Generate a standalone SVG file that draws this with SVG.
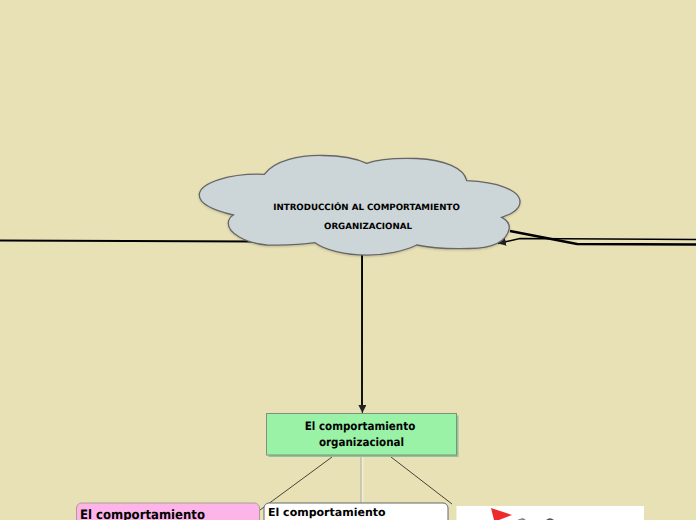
<svg xmlns="http://www.w3.org/2000/svg" width="696" height="520" viewBox="0 0 696 520">
<style>
text{font-family:"DejaVu Sans",sans-serif;font-weight:700;fill:#000;text-rendering:geometricPrecision}
.c{text-anchor:middle}
.t9{font-size:8.7px}
.cond{font-stretch:condensed}
.t11{font-size:11px}
.t115{font-size:11.5px}
.t13{font-size:13px}
.line{fill:none;stroke:#000}
</style>
<defs>
<marker id="arrow" markerUnits="userSpaceOnUse" markerWidth="9" markerHeight="9" refX="8" refY="4" orient="auto"><path d="M0 0L8 4L0 8Z" fill="#222"/></marker>
<filter id="soft" x="-5%" y="-5%" width="110%" height="115%"><feDropShadow dx="0" dy="1" stdDeviation="1" flood-color="#000" flood-opacity=".18"/></filter>
</defs>
<rect width="696" height="520" fill="#e8e1b6"/>
<g id="connectors">
<path class="line" stroke-width="2" d="M0 240.500L262 241.500"/>
<path class="line" stroke="#444" stroke-width="1.500" d="M696 239.500L520 238.500L498 243.500" marker-end="url(#arrow)"/>
<path class="line" stroke-width="2.300" d="M510 231L577 244L696 244.500"/>
<path class="line" stroke="#999" stroke-width="1" d="M361.600 254V405"/>
<path class="line" stroke="#111" stroke-width="1" d="M362.500 254L362.400 413" marker-end="url(#arrow)"/>
<path class="line" stroke="#777" stroke-width=".7" d="M332 457L260 510"/>
<path d="M361.800 457V503" fill="none" stroke="#f3eed3" stroke-width="3"/>
<path d="M361 457V503" fill="none" stroke="#8a8a70" stroke-width=".7"/>
<path class="line" stroke="#666" stroke-width=".7" d="M391 457L452 504"/>
</g>
<g id="cloud">
<path filter="url(#soft)" d="M264.300 174.300C275 160 300 155 323 155.500C340 155.500 355 158 366.700 163.300C380 158.500 400 158 416.700 158.500C445 160 464 168 466.700 180.700C497 182 520 190 520 201.700C520 209 512 214 501.700 217.300C507 220 509.500 224 509.300 228.300C507 240 495 248 470 248.500C450 249 430 248 416.700 245C405 251 385 255 366.700 255.200C345 255 325 250 315 242.700C300 245 285 245.500 266.700 245C245 243 228 233 228.300 223.300C228.300 220 230 217 233.300 215C212 210 199.300 203 199.300 195C199.300 183 230 173 264.300 174.300Z" fill="#ccd5d7" stroke="#666" stroke-width="1.300"/>
<text class="c t9" x="366.500" y="210">INTRODUCCIÓN AL COMPORTAMIENTO</text>
<text class="c t9" x="368" y="229">ORGANIZACIONAL</text>
</g>
<g id="node-green">
<rect x="268.500" y="415.500" width="190" height="41.500" fill="#8cc596"/>
<rect x="266.500" y="413.500" width="190" height="41.500" fill="#99f2a6" stroke="#858f80" stroke-width="1"/>
<text class="c t115 cond" x="360" y="430">El comportamiento</text>
<text class="c t115 cond" x="361.500" y="446">organizacional</text>
</g>
<g id="node-pink">
<rect x="76.500" y="503" width="183" height="30" rx="5" fill="#fdb4e9" stroke="#a9a08f" stroke-width="1"/>
<text class="t13 cond" x="80" y="519">El comportamiento</text>
</g>
<g id="node-white">
<rect x="264" y="503" width="184" height="30" rx="5" fill="#fff" stroke="#666" stroke-width="1"/>
<text class="t11" x="268" y="516">El comportamiento</text>
</g>
<g id="node-image">
<rect x="456.500" y="506" width="187.500" height="20" fill="#fff"/>
<path d="M491 508L512 515L499 520H494Z" fill="#ee2b2b"/>
<path d="M518 519.500L523 518L526 520H518Z" fill="#888"/>
<path d="M546 520Q550 516.500 554 520Z" fill="#555"/>
</g>
</svg>
